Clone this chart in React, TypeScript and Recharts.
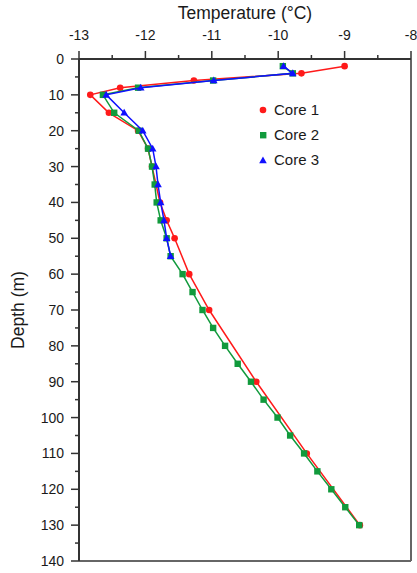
import React from 'react';
import {
  ScatterChart,
  Scatter,
  XAxis,
  YAxis,
  Legend,
  Label,
  ReferenceLine,
} from 'recharts';

const FONT = '"Liberation Sans", Arial, Helvetica, sans-serif';
const COLOR_RED = '#ff1a1a';
const COLOR_GREEN = '#119a3c';
const COLOR_BLUE = '#1010ff';
const COLOR_TEXT = '#1a1a1a';
const COLOR_AXIS = '#333333';
const COLOR_FRAME = '#666666';

// depth (m) and temperature (°C)
const core1Depth = [2, 4, 6, 8, 10, 15, 20, 25, 30, 35, 40, 45, 50, 60, 70, 90, 110, 130];
const core1Temp = [-9.0, -9.65, -11.27, -12.38, -12.83, -12.55, -12.11, -11.96, -11.9, -11.84, -11.78, -11.68, -11.56, -11.34, -11.04, -10.33, -9.57, -8.77];

const core2Depth = [2, 4, 6, 8, 10, 15, 20, 25, 30, 35, 40, 45, 50, 55, 60, 65, 70, 75, 80, 85, 90, 95, 100, 105, 110, 115, 120, 125, 130];
const core2Temp = [-9.93, -9.78, -10.98, -12.11, -12.64, -12.47, -12.1, -11.96, -11.9, -11.86, -11.83, -11.77, -11.68, -11.62, -11.44, -11.29, -11.14, -10.98, -10.8, -10.61, -10.41, -10.22, -10.01, -9.82, -9.61, -9.41, -9.2, -8.99, -8.78];

const core3Depth = [2, 4, 6, 8, 10, 15, 20, 25, 30, 35, 40, 45, 50, 55];
const core3Temp = [-9.92, -9.78, -10.97, -12.07, -12.59, -12.32, -12.04, -11.89, -11.84, -11.81, -11.77, -11.72, -11.68, -11.62];

const xTicks = [-13, -12.5, -12, -11.5, -11, -10.5, -10, -9.5, -9, -8.5, -8];
const yTicks = [0, 5, 10, 15, 20, 25, 30, 35, 40, 45, 50, 55, 60, 65, 70, 75, 80, 85, 90, 95, 100, 105, 110, 115, 120, 125, 130, 135, 140];

const toPoints = (depths: number[], temps: number[]) =>
  depths.map((d, i) => ({ d, t: temps[i] }));

const core1 = toPoints(core1Depth, core1Temp);
const core2 = toPoints(core2Depth, core2Temp);
const core3 = toPoints(core3Depth, core3Temp);

// top axis ticks: long for whole degrees, short in between
const TempTick = (props: any) => {
  const { x, y, payload } = props;
  const major = Number.isInteger(payload.value);
  return (
    <g>
      <line x1={x} x2={x} y1={y} y2={y - (major ? 8 : 4)} stroke={COLOR_AXIS} strokeWidth={1.5} />
      {major && (
        <text x={x} y={y - 19} textAnchor="middle" fontSize={14} fontFamily={FONT} fill={COLOR_TEXT}>
          {payload.value}
        </text>
      )}
    </g>
  );
};

const DepthTick = (props: any) => {
  const { x, y, payload } = props;
  const major = payload.value % 10 === 0;
  return (
    <g>
      <line x1={x} x2={x - (major ? 8 : 4)} y1={y} y2={y} stroke={COLOR_AXIS} strokeWidth={1.5} />
      {major && (
        <text x={x - 15} y={y} dy="0.36em" textAnchor="end" fontSize={14} fontFamily={FONT} fill={COLOR_TEXT}>
          {payload.value}
        </text>
      )}
    </g>
  );
};

// small markers, drawn at the point the scatter gives us
const Dot = ({ cx, cy, fill }: any) => <circle cx={cx} cy={cy} r={3.3} fill={fill} />;
const Square = ({ cx, cy, fill }: any) => (
  <rect x={cx - 3.2} y={cy - 3.2} width={6.4} height={6.4} fill={fill} />
);
const Triangle = ({ cx, cy, fill }: any) => (
  <polygon points={`${cx},${cy - 4} ${cx + 3.8},${cy + 2.8} ${cx - 3.8},${cy + 2.8}`} fill={fill} />
);

const markerFor = (i: number, color: string) => {
  if (i === 0) return <circle cx={6} cy={6} r={3.3} fill={color} />;
  if (i === 1) return <rect x={3} y={3} width={6.4} height={6.4} fill={color} />;
  return <polygon points="6,2.5 9.8,9.3 2.2,9.3" fill={color} />;
};

const CoreLegend = (props: any) => {
  const { payload } = props;
  return (
    <div style={{ fontFamily: FONT, fontSize: 15, color: COLOR_TEXT }}>
      {(payload || []).map((entry: any, i: number) => (
        <div key={entry.value} style={{ display: 'flex', alignItems: 'center', height: 25 }}>
          <svg width={12} height={12} style={{ marginRight: 5 }}>
            {markerFor(i, entry.color)}
          </svg>
          <span>{entry.value}</span>
        </div>
      ))}
    </div>
  );
};

export default function App() {
  return (
    <div style={{ position: 'absolute', left: 0, top: 0, background: '#fff' }}>
      <ScatterChart width={417} height={573} margin={{ top: 0, right: 6, bottom: 12, left: 0 }}>
        <XAxis
          type="number"
          dataKey="t"
          orientation="top"
          domain={[-13, -8]}
          ticks={xTicks}
          interval={0}
          height={59}
          tickSize={0}
          tickMargin={0}
          tick={<TempTick />}
          axisLine={{ stroke: COLOR_AXIS, strokeWidth: 2 }}
          allowDataOverflow
        >
          <Label
            value="Temperature (°C)"
            position="insideTop"
            offset={7}
            style={{ fontFamily: FONT, fontSize: 17.5, fill: COLOR_TEXT }}
          />
        </XAxis>
        <YAxis
          type="number"
          dataKey="d"
          domain={[0, 140]}
          reversed
          ticks={yTicks}
          interval={0}
          width={79}
          tickSize={0}
          tickMargin={0}
          tick={<DepthTick />}
          axisLine={{ stroke: COLOR_AXIS, strokeWidth: 2 }}
          allowDataOverflow
        >
          <Label
            value="Depth (m)"
            position="insideLeft"
            angle={-90}
            offset={18}
            style={{ fontFamily: FONT, fontSize: 17.5, fill: COLOR_TEXT, textAnchor: 'middle' }}
          />
        </YAxis>

        <ReferenceLine x={-8} stroke={COLOR_FRAME} strokeWidth={2} />
        <ReferenceLine y={140} stroke={COLOR_FRAME} strokeWidth={2} />

        <Legend
          layout="vertical"
          align="center"
          verticalAlign="middle"
          content={<CoreLegend />}
          wrapperStyle={{ left: 257, top: 97, width: 'auto', height: 'auto' }}
        />

        <Scatter
          name="Core 1"
          data={core1}
          fill={COLOR_RED}
          shape={<Dot />}
          legendType="circle"
          line={{ stroke: COLOR_RED, strokeWidth: 1.5 }}
          isAnimationActive={false}
        />
        <Scatter
          name="Core 2"
          data={core2}
          fill={COLOR_GREEN}
          shape={<Square />}
          legendType="square"
          line={{ stroke: COLOR_GREEN, strokeWidth: 1.5 }}
          isAnimationActive={false}
        />
        <Scatter
          name="Core 3"
          data={core3}
          fill={COLOR_BLUE}
          shape={<Triangle />}
          legendType="triangle"
          line={{ stroke: COLOR_BLUE, strokeWidth: 1.5 }}
          isAnimationActive={false}
        />
      </ScatterChart>
    </div>
  );
}
